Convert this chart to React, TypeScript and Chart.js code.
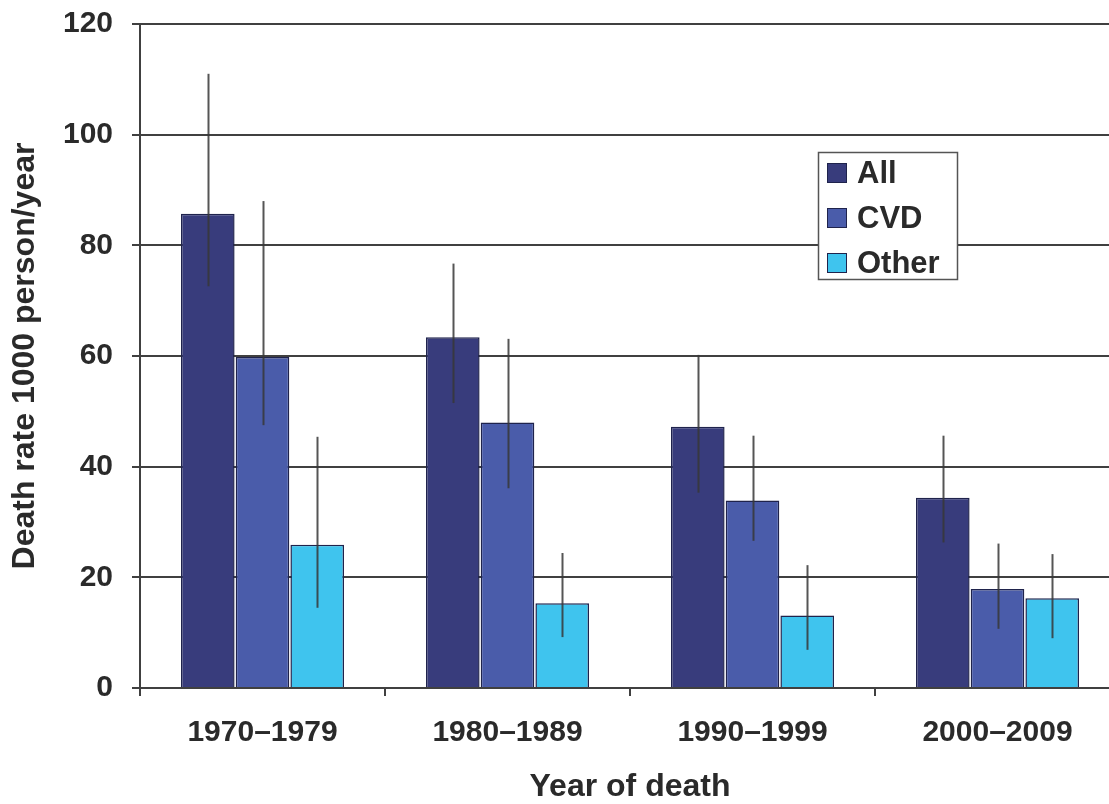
import React, { useEffect, useRef } from "react";
import { Chart, registerables } from "chart.js";

Chart.register(...registerables);

const categories = ["1970–1979", "1980–1989", "1990–1999", "2000–2009"];
const seriesNames = ["All", "CVD", "Other"];

const allValues = [85.7, 63.4, 47.2, 34.4];
const allHigh = [111.0, 76.7, 60.2, 45.6];
const allLow = [72.6, 51.5, 35.3, 26.3];

const cvdValues = [59.8, 48.0, 33.9, 17.9];
const cvdHigh = [88.0, 63.1, 45.6, 26.1];
const cvdLow = [47.5, 36.1, 26.6, 10.7];

const otherValues = [25.9, 15.3, 13.1, 16.2];
const otherHigh = [45.4, 24.4, 22.2, 24.2];
const otherLow = [14.5, 9.2, 6.9, 9.0];

const yTicks = [0, 20, 40, 60, 80, 100, 120];
const yAxisTitle = "Death rate 1000 person/year";
const xAxisTitle = "Year of death";

const seriesColors = ["#383c7c", "#4a5caa", "#3fc4ee"];
const barBorder = "#1f234c";
const gridColor = "#404040";
const textColor = "#2a2a2a";
const fontFamily = "'Liberation Sans', Arial, Helvetica, sans-serif";

const errorBarPlugin = {
  id: "errorBars",
  afterDatasetsDraw(chart: any) {
    const ctx = chart.ctx;
    const yScale = chart.scales.y;
    chart.data.datasets.forEach((ds: any, di: number) => {
      const meta = chart.getDatasetMeta(di);
      meta.data.forEach((bar: any, i: number) => {
        const hi = ds.errHigh[i];
        const lo = ds.errLow[i];
        const x = Math.round(bar.x) + 0.5;
        ctx.save();
        ctx.strokeStyle = "rgba(55,55,55,0.85)";
        ctx.lineWidth = 2;
        ctx.beginPath();
        ctx.moveTo(x, yScale.getPixelForValue(hi));
        ctx.lineTo(x, yScale.getPixelForValue(lo));
        ctx.stroke();
        ctx.restore();
      });
    });
  },
};

const insideLegendPlugin = {
  id: "insideLegend",
  afterDraw(chart: any) {
    const ctx = chart.ctx;
    const boxLeft = 818;
    const boxTop = 152;
    const boxW = 139;
    const boxH = 127;
    ctx.save();
    ctx.fillStyle = "#ffffff";
    ctx.fillRect(boxLeft, boxTop, boxW, boxH);
    ctx.strokeStyle = "#555555";
    ctx.lineWidth = 1.5;
    ctx.strokeRect(boxLeft + 0.5, boxTop + 0.5, boxW, boxH);
    ctx.font = `bold 31px ${fontFamily}`;
    ctx.textBaseline = "middle";
    ctx.textAlign = "left";
    chart.data.datasets.forEach((ds: any, i: number) => {
      const cy = boxTop + 21 + i * 45;
      ctx.fillStyle = ds.backgroundColor;
      ctx.fillRect(827, cy - 10, 20, 20);
      ctx.strokeStyle = barBorder;
      ctx.lineWidth = 1;
      ctx.strokeRect(827.5, cy - 9.5, 19, 19);
      ctx.fillStyle = textColor;
      ctx.fillText(ds.label, 857, cy + 1);
    });
    ctx.restore();
  },
};

export default function App() {
  const canvasRef = useRef<HTMLCanvasElement | null>(null);

  useEffect(() => {
    if (!canvasRef.current) return;
    const valueSets = [allValues, cvdValues, otherValues];
    const highSets = [allHigh, cvdHigh, otherHigh];
    const lowSets = [allLow, cvdLow, otherLow];
    const chart = new Chart(canvasRef.current, {
      type: "bar",
      data: {
        labels: categories,
        datasets: seriesNames.map((name, i) => ({
          label: name,
          data: valueSets[i],
          errHigh: highSets[i],
          errLow: lowSets[i],
          backgroundColor: seriesColors[i],
          borderColor: barBorder,
          borderWidth: 1.5,
          categoryPercentage: 0.67,
          barPercentage: 0.98,
        })) as any,
      },
      options: {
        animation: false,
        responsive: false,
        devicePixelRatio: 1,
        layout: { padding: { top: 24, left: 0, right: 5, bottom: 0 } },
        plugins: {
          legend: { display: false },
          tooltip: { enabled: false },
        },
        scales: {
          x: {
            grid: {
              display: true,
              drawOnChartArea: false,
              drawTicks: true,
              tickLength: 8,
              color: gridColor,
              lineWidth: 2,
            },
            border: { display: true, color: gridColor, width: 2 },
            ticks: {
              color: textColor,
              padding: 19,
              font: { family: fontFamily, size: 30, weight: "bold" },
              maxRotation: 0,
            },
            title: {
              display: true,
              text: xAxisTitle,
              color: textColor,
              font: { family: fontFamily, size: 32, weight: "bold", lineHeight: 1 },
              padding: { top: 0, bottom: 1 },
            },
            afterFit(scale: any) {
              scale.height = 116;
            },
          },
          y: {
            min: 0,
            max: 120,
            afterBuildTicks(scale: any) {
              scale.ticks = yTicks.map((v) => ({ value: v }));
            },
            grid: {
              color: gridColor,
              lineWidth: 2,
              drawTicks: true,
              tickLength: 8,
            },
            border: { display: true, color: gridColor, width: 2 },
            ticks: {
              color: textColor,
              padding: 19,
              font: { family: fontFamily, size: 30, weight: "bold" },
            },
            title: {
              display: true,
              text: yAxisTitle,
              color: textColor,
              font: { family: fontFamily, size: 32, weight: "bold", lineHeight: 1.2 },
              padding: { top: 6, bottom: 0 },
            },
            afterFit(scale: any) {
              scale.width = 140;
              scale.paddingTop = 0;
              scale.paddingBottom = 0;
            },
          },
        },
      } as any,
      plugins: [errorBarPlugin, insideLegendPlugin],
    });
    return () => chart.destroy();
  }, []);

  return (
    <div
      style={{
        position: "fixed",
        left: 0,
        top: 0,
        width: 1109,
        height: 804,
        overflow: "hidden",
        background: "#ffffff",
      }}
    >
      <canvas
        ref={canvasRef}
        width={1125}
        height={804}
        style={{ display: "block", width: 1125, height: 804 }}
      />
    </div>
  );
}
